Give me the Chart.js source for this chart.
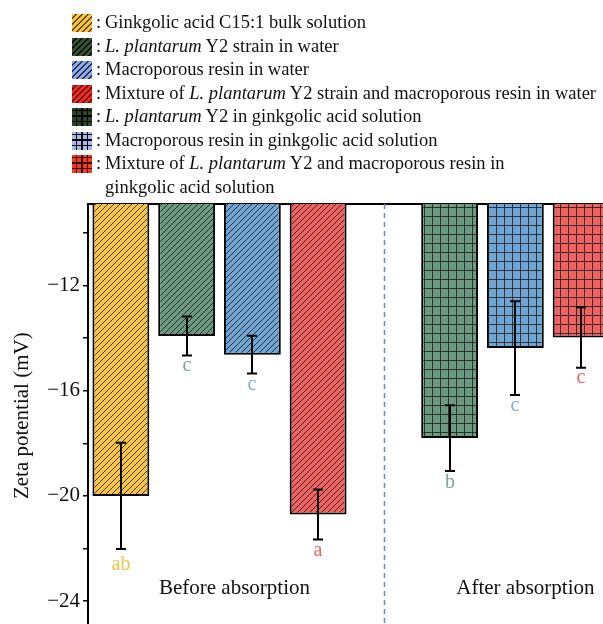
<!DOCTYPE html>
<html>
<head>
<meta charset="utf-8">
<script src="https://cdn.jsdelivr.net/npm/chart.js@4.4.1/dist/chart.umd.min.js"></script>
<style>
  html, body { margin: 0; padding: 0; background: #fff; overflow: hidden; width: 603px; height: 624px; }
  #wrap { position: relative; width: 603px; height: 624px; overflow: hidden; }
  #zeta { position: absolute; left: 0; top: 0; }
  #legend { position: absolute; left: 72px; top: 11px; font-family: "Liberation Serif", "Times New Roman", serif; font-size: 18.5px; line-height: 23.5px; color: #111; }
  .row { display: flex; align-items: flex-start; white-space: nowrap; }
  .sw { width: 20px; height: 18px; margin-top: 3px; margin-right: 4px; flex: none; }
  .colon { width: 9px; flex: none; }
</style>
</head>
<body>
<div id="wrap">
  <canvas id="zeta" width="614" height="643"></canvas>
  <div id="legend"></div>
</div>
<script>
// bar slots: four "before" bars, an empty slot for the separator, three "after" bars
const slots = ['GA', 'LP-water', 'MR-water', 'Mix-water', '', 'LP-GA', 'MR-GA', 'Mix-GA'];
const zeta = [-20.0, -13.92, -14.63, -20.71, null, -17.8, -14.38, -13.98];
const zetaSd = [2.02, 0.74, 0.72, 0.95, null, 1.25, 1.78, 1.15];
const letters = ['ab', 'c', 'c', 'a', '', 'b', 'c', 'c'];
const groupLabels = ['Before absorption', 'After absorption'];
const yTicks = [-24, -22, -20, -18, -16, -14, -12, -10];
const legendItems = [
  ': Ginkgolic acid C15:1 bulk solution',
  ': <i>L. plantarum</i> Y2 strain in water',
  ': Macroporous resin in water',
  ': Mixture of <i>L. plantarum</i> Y2 strain and macroporous resin in water',
  ': <i>L. plantarum</i> Y2 in ginkgolic acid solution',
  ': Macroporous resin in ginkgolic acid solution',
  ': Mixture of <i>L. plantarum</i> Y2 and macroporous resin in<br>ginkgolic acid solution'
];

const barColors = ['#F8C444', '#6B9A80', '#6FA4D3', '#EE6262', null, '#6B9A80', '#6FA4D3', '#EE6262'];
const barHatch = ['diag', 'diag', 'diag', 'diag', null, 'grid', 'grid', 'grid'];
const letterColors = ['#F8C444', '#7FA590', '#7AAEDC', '#F06464', null, '#7FA590', '#7AAEDC', '#F06464'];
const letterGap = [21, 16, 16, 16, 0, 17, 16, 15];
const legendSwatches = [
  ['#F5C440', 'diag', 'rgba(70,50,0,0.85)'],
  ['#34522B', 'diag', 'rgba(0,0,0,0.9)'],
  ['#8EA9E0', 'diag', 'rgba(20,30,80,0.9)'],
  ['#F2261C', 'diag', 'rgba(60,0,0,0.85)'],
  ['#2F4626', 'grid', '#000'],
  ['#A9B9EC', 'grid', '#000'],
  ['#F23A24', 'grid', 'rgba(40,0,0,0.9)']
];

function hatch(color, kind) {
  const c = document.createElement('canvas');
  const w = kind === 'grid' ? 8 : 6;
  const h = kind === 'grid' ? 9 : 6;
  c.width = w; c.height = h;
  const g = c.getContext('2d');
  g.fillStyle = color;
  g.fillRect(0, 0, w, h);
  g.strokeStyle = 'rgba(25,25,25,0.8)';
  g.lineWidth = 1;
  g.beginPath();
  if (kind === 'grid') {
    g.moveTo(0.5, 0); g.lineTo(0.5, h);
    g.moveTo(0, 0.5); g.lineTo(w, 0.5);
  } else {
    g.moveTo(0, w); g.lineTo(w, 0);
    g.moveTo(-1, 1); g.lineTo(1, -1);
    g.moveTo(w - 1, w + 1); g.lineTo(w + 1, w - 1);
  }
  g.stroke();
  return g.createPattern(c, 'repeat');
}

// legend rows
const legendEl = document.getElementById('legend');
legendItems.forEach((txt, i) => {
  const [bg, kind, ink] = legendSwatches[i];
  const row = document.createElement('div');
  row.className = 'row';
  const sw = document.createElement('div');
  sw.className = 'sw';
  sw.style.backgroundColor = bg;
  if (kind === 'grid') {
    sw.style.backgroundImage = `repeating-linear-gradient(90deg, transparent 0 4px, ${ink} 4px 5.5px), repeating-linear-gradient(0deg, transparent 0 4px, ${ink} 4px 5.5px)`;
  } else {
    sw.style.backgroundImage = `repeating-linear-gradient(135deg, transparent 0 2.5px, ${ink} 2.5px 4.2px)`;
  }
  const colon = document.createElement('span');
  colon.className = 'colon';
  colon.textContent = ':';
  const text = document.createElement('span');
  text.innerHTML = txt.slice(2);
  row.appendChild(sw);
  row.appendChild(colon);
  row.appendChild(text);
  legendEl.appendChild(row);
});

const serif = '"Liberation Serif", "Times New Roman", serif';

// error bars, letters, separator and group captions
const annotate = {
  id: 'annotate',
  beforeDatasetsDraw(chart) {
    const { ctx, chartArea, scales: { x } } = chart;
    const sx = Math.round(x.getPixelForValue(4)) + 0.5;
    ctx.save();
    ctx.strokeStyle = '#7882C6';
    ctx.lineWidth = 1.5;
    ctx.setLineDash([5, 4]);
    ctx.beginPath();
    ctx.moveTo(sx, chartArea.top);
    ctx.lineTo(sx, chartArea.bottom);
    ctx.stroke();
    ctx.restore();
  },
  afterDatasetsDraw(chart) {
    const { ctx, scales: { x, y } } = chart;
    ctx.save();
    ctx.strokeStyle = '#000';
    ctx.lineWidth = 2;
    zeta.forEach((v, i) => {
      if (v === null) return;
      const cx = Math.round(x.getPixelForValue(i));
      const yTop = y.getPixelForValue(v + zetaSd[i]);
      const yBot = y.getPixelForValue(v - zetaSd[i]);
      ctx.beginPath();
      ctx.moveTo(cx, yTop); ctx.lineTo(cx, yBot);
      ctx.moveTo(cx - 5, yTop); ctx.lineTo(cx + 5, yTop);
      ctx.moveTo(cx - 5, yBot); ctx.lineTo(cx + 5, yBot);
      ctx.stroke();
      ctx.font = '20px ' + serif;
      ctx.fillStyle = letterColors[i];
      ctx.textAlign = 'center';
      ctx.textBaseline = 'alphabetic';
      ctx.fillText(letters[i], cx, yBot + letterGap[i]);
    });
    ctx.fillStyle = '#111';
    ctx.font = '21px ' + serif;
    ctx.textAlign = 'center';
    const capY = y.getPixelForValue(-23.72);
    ctx.fillText(groupLabels[0], x.getPixelForValue(1.5) + 15, capY);
    ctx.fillText(groupLabels[1], x.getPixelForValue(6) + 10, capY);
    ctx.restore();
  }
};

new Chart(document.getElementById('zeta'), {
  type: 'bar',
  data: {
    labels: slots,
    datasets: [{
      data: zeta,
      backgroundColor: barColors.map((c, i) => c ? hatch(c, barHatch[i]) : 'transparent'),
      borderColor: '#000',
      borderWidth: 2,
      borderSkipped: false,
      categoryPercentage: 1,
      barPercentage: 0.865
    }]
  },
  options: {
    responsive: false,
    animation: false,
    devicePixelRatio: 1,
    layout: { padding: { top: 204, bottom: 5, left: 0, right: 0 } },
    plugins: { legend: { display: false }, tooltip: { enabled: false } },
    scales: {
      x: {
        type: 'category',
        position: 'top',
        offset: true,
        grid: { display: false },
        ticks: { display: false },
        border: { display: true, color: '#000', width: 2 },
        afterFit: s => { s.height = 0; }
      },
      y: {
        min: -25,
        max: -8.9,
        afterFit: s => { s.width = 88; },
        afterBuildTicks: s => { s.ticks = yTicks.map(v => ({ value: v })); },
        grid: { drawOnChartArea: false, drawTicks: true, tickLength: 5, color: '#000', lineWidth: 1.5 },
        border: { display: true, color: '#000', width: 2 },
        ticks: {
          padding: 3,
          color: '#111',
          font: { family: serif, size: 21 },
          callback: v => (v % 4 === 0 ? '\u2212' + Math.abs(v) : '')
        },
        title: {
          display: true,
          text: 'Zeta potential (mV)',
          color: '#111',
          font: { family: serif, size: 21 },
          padding: { top: 10, bottom: 0 }
        }
      }
    }
  },
  plugins: [annotate]
});
</script>
</body>
</html>
